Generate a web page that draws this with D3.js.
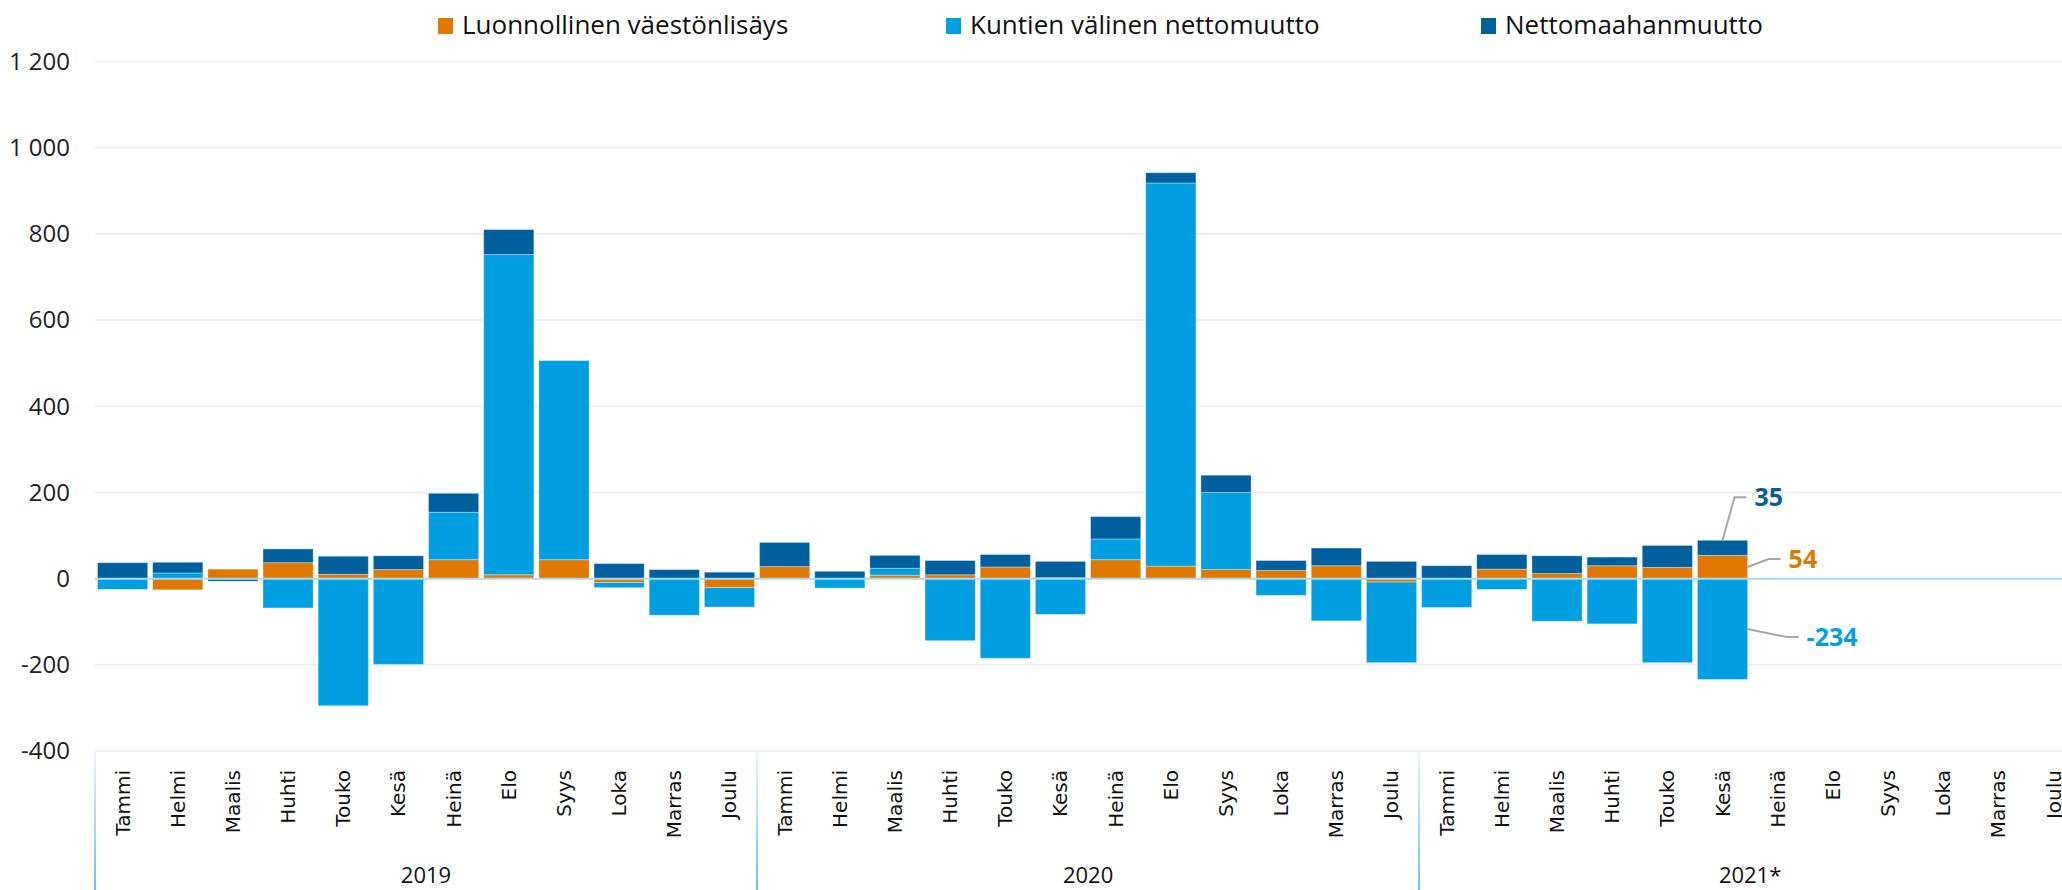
<!DOCTYPE html>
<html>
<head>
<meta charset="utf-8">
<script src="https://cdn.jsdelivr.net/npm/d3@7"></script>
<style>
  body { margin: 0; background: #fff; }
  svg { display: block; font-family: "Open Sans", sans-serif; }
  .grid line { stroke: #f0f0f0; stroke-width: 2px; }
  .monthLbl { font-family: "DejaVu Sans", sans-serif; font-size: 20px; fill: #111; }
  .yearLbl { font-size: 22px; fill: #111; }
  .tickLbl { font-size: 24px; fill: #222; }
  .legendLbl { font-size: 26px; fill: #111; }
  .valLbl { font-size: 25px; font-weight: bold; }
  .leader { fill: none; stroke: #a6a6a6; stroke-width: 2px; }
</style>
</head>
<body>
<svg id="chart" width="2062" height="890"></svg>
<script>
// Data
const months = ["Tammi", "Helmi", "Maalis", "Huhti", "Touko", "Kesä", "Heinä", "Elo", "Syys", "Loka", "Marras", "Joulu"];
const years = ["2019", "2020", "2021*"];
const seriesNames = ["Luonnollinen väestönlisäys", "Kuntien välinen nettomuutto", "Nettomaahanmuutto"];

const luonnollinen = [
  0, -26, 22, 37, 10, 21, 44, 9, 44, -9, 0, -21,
  28, 0, 8, 9, 27, 2, 44, 29, 21, 19, 30, -8,
  0, 22, 12, 30, 26, 54, null, null, null, null, null, null
];
const kuntien = [
  -25, 13, 0, -68, -295, -199, 110, 743, 462, -12, -85, -45,
  0, -22, 16, -144, -185, -83, 48, 889, 179, -39, -98, -187,
  -67, -25, -99, -105, -195, -234, null, null, null, null, null, null
];
const netto = [
  37, 25, -6, 32, 42, 32, 44, 58, 0, 35, 21, 15,
  56, 17, 30, 33, 29, 38, 52, 24, 40, 23, 41, 40,
  30, 34, 41, 20, 51, 35, null, null, null, null, null, null
];
const yTicks = [-400, -200, 0, 200, 400, 600, 800, 1000, 1200];

// rows for the stack
let rows = [];
years.forEach((yr, yi) => {
  months.forEach((m, mi) => {
    let i = yi * 12 + mi;
    rows.push({
      key: yr + "|" + m, year: yr, month: m,
      l: luonnollinen[i] || 0, k: kuntien[i] || 0, n: netto[i] || 0,
      hasData: luonnollinen[i] !== null
    });
  });
});

let colors = { l: "#e07800", k: "#009fe1", n: "#00609e" };

const svg = d3.select("#chart");
const plotLeft = 95, step = 55.17;
const plotTop = 61.5, plotBottom = 751;

// Step 1: Scales
let x = d3.scaleBand()
  .domain(rows.map(d => d.key))
  .range([plotLeft, plotLeft + step * rows.length])
  .paddingInner(0.09)
  .paddingOuter(0.045);

let y = d3.scaleLinear()
  .domain([-400, 1200])
  .range([plotBottom, plotTop]);

let fi = d3.formatLocale({ decimal: ",", thousands: " ", grouping: [3], currency: ["", " €"], minus: "-" });
let format = fi.format(",d");

// Step 2: Grid + y labels
let grid = svg.append("g").attr("class", "grid");
grid.selectAll("line")
  .data(yTicks.filter(t => t !== 0))
  .enter().append("line")
  .attr("x1", plotLeft).attr("x2", 2062)
  .attr("y1", d => y(d)).attr("y2", d => y(d));

svg.append("g")
  .selectAll("text")
  .data(yTicks)
  .enter().append("text")
  .attr("class", "tickLbl")
  .attr("x", 70)
  .attr("y", d => y(d))
  .attr("dy", "0.35em")
  .attr("text-anchor", "end")
  .text(d => format(d));

// Step 3: Bars
let stack = d3.stack()
  .keys(["l", "k", "n"])
  .offset(d3.stackOffsetDiverging);
let stacked = stack(rows.filter(d => d.hasData));

svg.append("g")
  .selectAll("g")
  .data(stacked)
  .enter().append("g")
  .style("fill", d => colors[d.key])
  .selectAll("rect")
  .data(d => d.filter(s => s[1] - s[0] !== 0))
  .enter().append("rect")
  .attr("x", d => x(d.data.key))
  .attr("width", x.bandwidth())
  .attr("y", d => y(Math.max(d[0], d[1])))
  .attr("height", d => Math.abs(y(d[0]) - y(d[1])))
  .attr("stroke", "#fff")
  .attr("stroke-opacity", 0.35)
  .attr("stroke-width", 1);

// zero line
svg.append("line")
  .attr("x1", plotLeft).attr("x2", 2062)
  .attr("y1", y(0)).attr("y2", y(0))
  .attr("stroke", "#a9d9f7")
  .attr("stroke-width", 2);

// Step 4: x axis labels (months + years)
svg.append("g")
  .selectAll("text")
  .data(rows)
  .enter().append("text")
  .attr("class", "monthLbl")
  .attr("text-anchor", "end")
  .attr("dy", "0.35em")
  .attr("transform", d => `translate(${x(d.key) + x.bandwidth() / 2}, 770) rotate(-90)`)
  .text(d => d.month);

let defs = svg.append("defs");
let grad = defs.append("linearGradient")
  .attr("id", "sepGrad")
  .attr("x1", 0).attr("x2", 0).attr("y1", 0).attr("y2", 1);
grad.append("stop").attr("offset", "0%").attr("stop-color", "#e6f4fd");
grad.append("stop").attr("offset", "100%").attr("stop-color", "#6cbdf1");

svg.append("g")
  .selectAll("rect")
  .data(years)
  .enter().append("rect")
  .attr("x", (d, i) => x.range()[0] + i * 12 * x.step() - 1)
  .attr("y", plotBottom + 1)
  .attr("width", 2)
  .attr("height", 890 - plotBottom)
  .attr("fill", "url(#sepGrad)");

svg.append("g")
  .selectAll("text")
  .data(years)
  .enter().append("text")
  .attr("class", "yearLbl")
  .attr("x", (d, i) => x.range()[0] + (i * 12 + 6) * x.step())
  .attr("y", 883)
  .attr("text-anchor", "middle")
  .text(d => d);

// Step 5: Legend
let legendX = [438, 946, 1481];
let lg = svg.append("g")
  .selectAll("g")
  .data(["l", "k", "n"])
  .enter().append("g")
  .attr("transform", (d, i) => `translate(${legendX[i]}, 0)`);
lg.append("rect")
  .attr("y", 18).attr("width", 15).attr("height", 16)
  .attr("fill", d => colors[d]);
lg.append("text")
  .attr("class", "legendLbl")
  .attr("x", 24).attr("y", 34)
  .text((d, i) => seriesNames[i]);

// Step 6: last value labels with leader lines
let lastIdx = luonnollinen.filter(v => v !== null).length - 1;
let last = rows[lastIdx];
let bx = x(last.key), bw = x.bandwidth();
let topN = y(last.l + last.n);
let midL = (y(0) + y(last.l)) / 2;
let midK = (y(0) + y(last.k)) / 2;

let callouts = [
  { pts: [[bx + bw / 2, topN], [bx + bw / 2 + 12, topN - 43], [bx + bw / 2 + 24, topN - 43]], val: last.n, c: colors.n },
  { pts: [[bx + bw, midL], [bx + bw + 21, midL - 8], [bx + bw + 33, midL - 8]], val: last.l, c: colors.l },
  { pts: [[bx + bw, midK], [bx + bw + 39, midK + 8], [bx + bw + 51, midK + 8]], val: last.k, c: colors.k }
];
let line = d3.line();
callouts.forEach(co => {
  svg.append("path").attr("class", "leader").attr("d", line(co.pts));
  let end = co.pts[2];
  svg.append("text")
    .attr("class", "valLbl")
    .attr("x", end[0] + 8)
    .attr("y", end[1])
    .attr("dy", "0.35em")
    .style("fill", co.c)
    .text(format(co.val));
});
</script>
</body>
</html>
